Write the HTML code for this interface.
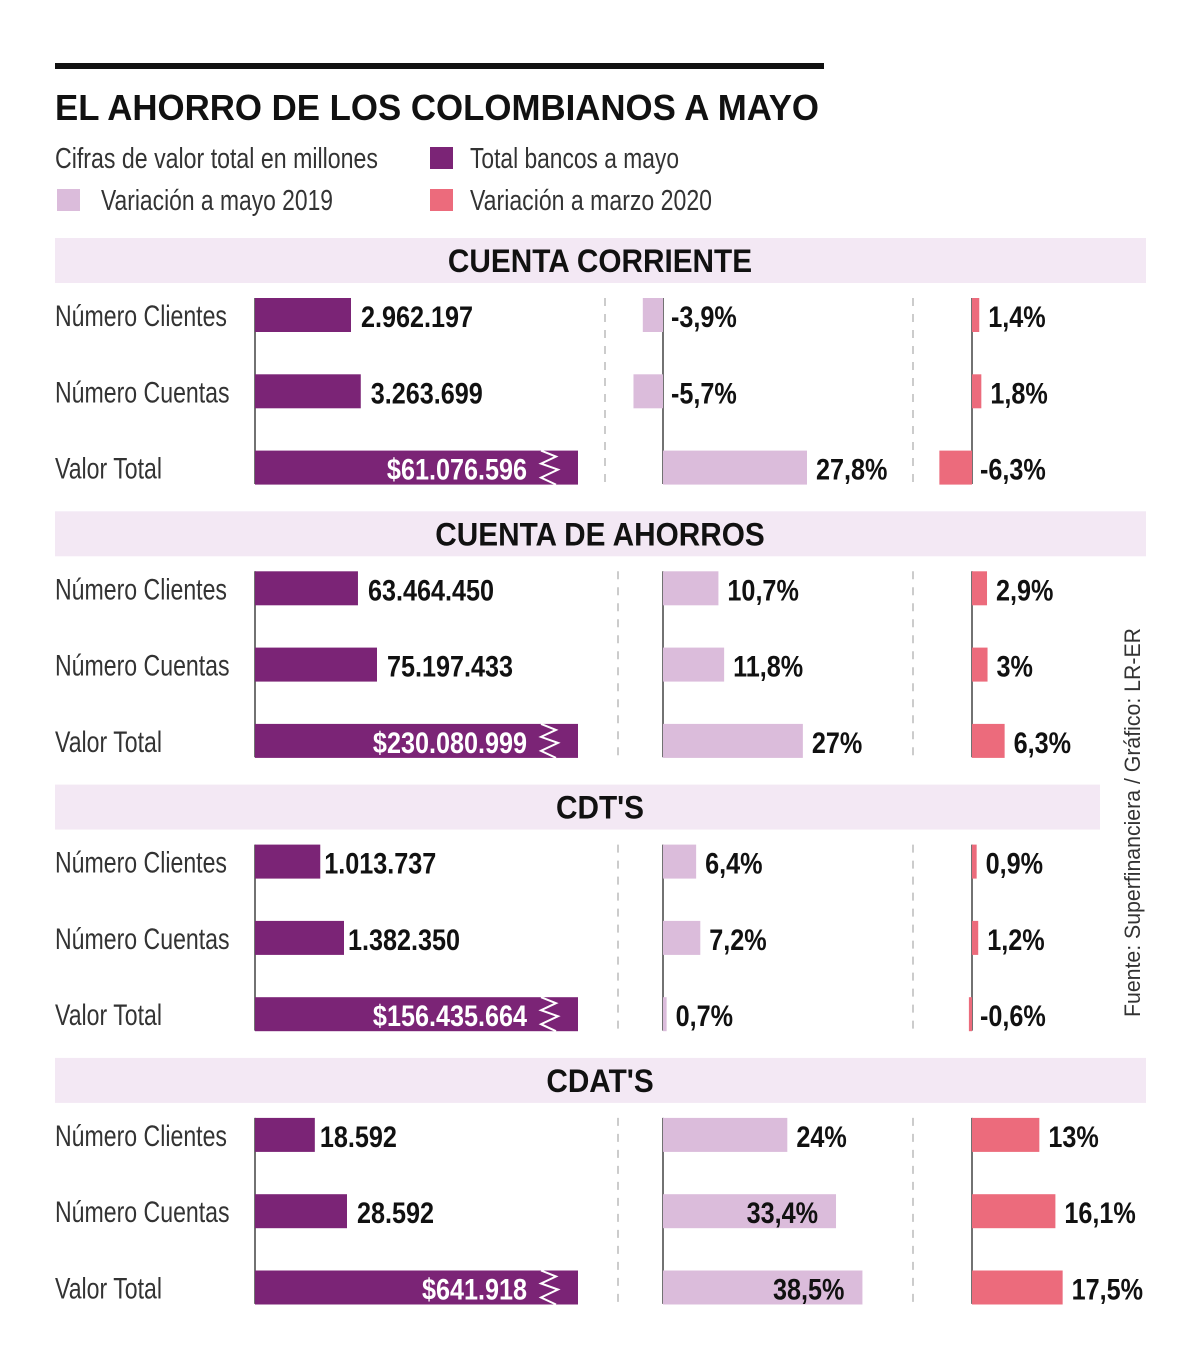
<!DOCTYPE html>
<html><head><meta charset="utf-8">
<style>
html,body{margin:0;padding:0;background:#fff;}
svg{display:block;font-family:"Liberation Sans Narrow","Liberation Sans",sans-serif;}
</style></head>
<body>
<svg id="c" width="1200" height="1365" viewBox="0 0 1200 1365" xmlns="http://www.w3.org/2000/svg">
<rect x="55" y="63" width="769" height="6" fill="#111"/>
<text x="55" y="120" font-size="36" font-weight="bold" fill="#111" textLength="764" lengthAdjust="spacingAndGlyphs">EL AHORRO DE LOS COLOMBIANOS A MAYO</text>
<text x="55" y="168" font-size="29" fill="#333" textLength="323" lengthAdjust="spacingAndGlyphs">Cifras de valor total en millones</text>
<rect x="430" y="147" width="23" height="22" fill="#7b2476"/>
<text x="470" y="168" font-size="29" fill="#333" textLength="209" lengthAdjust="spacingAndGlyphs">Total bancos a mayo</text>
<rect x="57" y="189" width="23" height="22" fill="#dbbcdb"/>
<text x="101" y="210" font-size="29" fill="#333" textLength="232" lengthAdjust="spacingAndGlyphs">Variación a mayo 2019</text>
<rect x="430" y="189" width="23" height="22" fill="#ec6b7c"/>
<text x="470" y="210" font-size="29" fill="#333" textLength="242" lengthAdjust="spacingAndGlyphs">Variación a marzo 2020</text>
<text transform="translate(1140,1017) rotate(-90)" font-size="22" fill="#333" textLength="389" lengthAdjust="spacingAndGlyphs">Fuente: Superfinanciera / Gráfico: LR-ER</text>
<g id="g"></g>
</svg>
<script>
const sections = ["CUENTA CORRIENTE","CUENTA DE AHORROS","CDT'S","CDAT'S"];
const rowLabels = ["Número Clientes","Número Cuentas","Valor Total"];
const totals = [[2962197,3263699,61076596],[63464450,75197433,230080999],[1013737,1382350,156435664],[18592,28592,641918]];
const totalLabels = [["2.962.197","3.263.699","$61.076.596"],["63.464.450","75.197.433","$230.080.999"],["1.013.737","1.382.350","$156.435.664"],["18.592","28.592","$641.918"]];
const var2019 = [[-3.9,-5.7,27.8],[10.7,11.8,27],[6.4,7.2,0.7],[24,33.4,38.5]];
const var2020 = [[1.4,1.8,-6.3],[2.9,3,6.3],[0.9,1.2,-0.6],[13,16.1,17.5]];
const fmt = v => (Number.isInteger(v)? String(v) : String(v).replace('.',','))+'%';

const NS="http://www.w3.org/2000/svg";
const g=document.getElementById('g');
function mk(tag,attrs,parent){const e=document.createElementNS(NS,tag);for(const k in attrs)e.setAttribute(k,attrs[k]);(parent||g).appendChild(e);return e;}
function txt(x,y,sx,attrs){const t=mk('text',attrs);t.setAttribute('transform',`translate(${x},${y}) scale(${sx},1)`);t.setAttribute('x',0);t.setAttribute('y',0);return t;}
const pctScale = v => v*5.18;
const BAR_H=34, X0=255, BREAK_END=578, AX1=663, AX2=972;
const bandW=[1091,1091,1045,1091];
const sepX=[605,618,618,618];
const VS=0.84, LS=0.77;

sections.forEach((s,si)=>{
  const top=238+si*273.3;
  const band=mk('rect',{x:55,y:top,width:bandW[si],height:45,fill:'#f3e8f4'});
  
  
  const ht=txt(600,top+34,0.93,{'font-size':32,'font-weight':'bold','text-anchor':'middle',fill:'#111'});
  ht.textContent=s;
  
  
  const r0=top+60;
  const ax=mk('line',{x1:X0,x2:X0,y1:r0,y2:r0+76*2+BAR_H,stroke:'#444','stroke-width':1.5});
  
  
  [AX1,AX2].forEach(x=>{
    const a=mk('line',{x1:x,x2:x,y1:r0,y2:r0+76*2+BAR_H,stroke:'#444','stroke-width':1.5});
    
    
  });
  [sepX[si],913].forEach(x=>{
    const d=mk('line',{x1:x,x2:x,y1:r0,y2:r0+76*2+BAR_H,stroke:'#999','stroke-width':1,'stroke-dasharray':'8,8'});
    
    
  });
  const pxPer=[96/2962197,122/75197433,89/1382350,92/28592][si];
  rowLabels.forEach((rl,ri)=>{
    const y=r0+ri*76.3;
    const lt=txt(55,y+28,LS,{'font-size':30,fill:'#333'});
    lt.textContent=rl;
    
    
    const isBroken = ri===2;
    const w = isBroken ? BREAK_END-X0 : totals[si][ri]*pxPer;
    const b=mk('rect',{x:X0,y:y,width:w,height:BAR_H,fill:'#7b2476'});
    
    
    let tl;
    if(isBroken){
      tl=txt(527,y+29,VS,{'font-size':30,'font-weight':'bold','text-anchor':'end',fill:'#fff'});
      const z=mk('polyline',{points:`${541},${y} ${556},${y+6} ${541},${y+13} ${558},${y+19} ${541},${y+27} ${556},${y+BAR_H}`,fill:'none',stroke:'#fff','stroke-width':2});
      
      
    } else {
      tl=txt(X0+w+(si===2?4:(si===3&&ri===0?5:10)),y+29,VS,{'font-size':30,'font-weight':'bold',fill:'#111'});
    }
    tl.textContent=totalLabels[si][ri];
    
    
    [[var2019,AX1,'#dbbcdb','var-2019'],[var2020,AX2,'#ec6b7c','var-2020']].forEach(([arr,axx,col,nm])=>{
      const v=arr[si][ri];
      const pw=Math.abs(pctScale(v));
      const bx=v<0?axx-pw:axx;
      const vb=mk('rect',{x:bx,y:y,width:Math.max(pw,2),height:BAR_H,fill:col});
      
      
      let t;
      const at={'font-size':30,'font-weight':'bold',fill:'#111'};
      if(nm==='var-2019' && v>30){at['text-anchor']='end';t=txt(axx+pw-18,y+29,VS,at);}
      else if(v<0){t=txt(axx+8,y+29,VS,at);}
      else{t=txt(axx+pw+9,y+29,VS,at);}
      t.textContent=fmt(v);
      
      
    });
  });
});
</script>
</body></html>
